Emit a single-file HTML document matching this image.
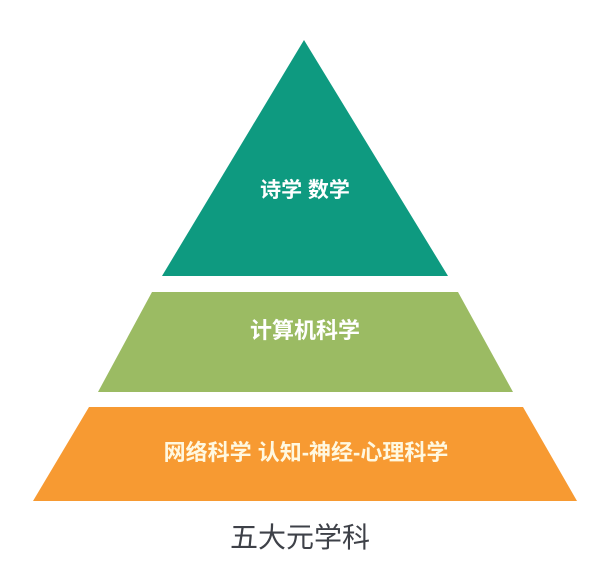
<!DOCTYPE html>
<html><head><meta charset="utf-8"><style>
html,body{margin:0;padding:0;background:#fff;width:605px;height:581px;overflow:hidden}
svg{display:block}
text{font-family:"Liberation Sans","Noto Sans CJK SC",sans-serif}
</style></head><body>
<svg width="605" height="581" viewBox="0 0 605 581">
<polygon points="304,40 448,276 162,276" fill="#0e9a80"/>
<polygon points="152,292 458,292 513,392 98,392" fill="#9bbb63"/>
<polygon points="89,407 523,407 577,501 33,501" fill="#f79a32"/>
<text x="305" y="197" font-size="21" fill="#fff" text-anchor="middle" font-weight="bold">诗学 数学</text>
<text x="305" y="338" font-size="22" fill="#fff" text-anchor="middle" font-weight="bold">计算机科学</text>
<text x="306" y="460" font-size="22" fill="#fff8e0" text-anchor="middle" font-weight="bold">网络科学 认知-神经-心理科学</text>
<text x="300" y="547" font-size="28" fill="#3e4148" text-anchor="middle">五大元学科</text>
</svg>
</body></html>
